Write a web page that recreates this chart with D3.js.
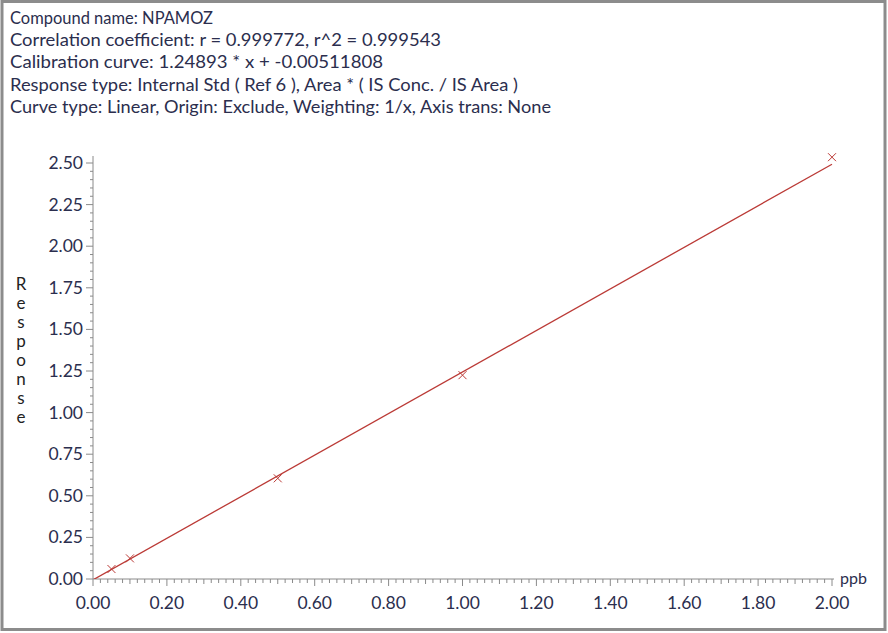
<!DOCTYPE html>
<html>
<head>
<meta charset="utf-8">
<script src="https://cdn.jsdelivr.net/npm/d3@7"></script>
<style>
  body { margin: 0; background: #fff; }
  svg { display: block; }
</style>
</head>
<body>
<script>
const width = 888;
const height = 633;

// header lines
const headerLines = [
  'Compound name: NPAMOZ',
  'Correlation coefficient: r = 0.999772, r^2 = 0.999543',
  'Calibration curve: 1.24893 * x + -0.00511808',
  'Response type: Internal Std ( Ref 6 ), Area * ( IS Conc. / IS Area )',
  'Curve type: Linear, Origin: Exclude, Weighting: 1/x, Axis trans: None'
];

// calibration points
const conc = [0.05, 0.1, 0.5, 1.0, 2.0];
const response = [0.060, 0.124, 0.605, 1.225, 2.535];
const slope = 1.24893;
const intercept = -0.00511808;

const xTicks = [0, 0.2, 0.4, 0.6, 0.8, 1.0, 1.2, 1.4, 1.6, 1.8, 2.0];
const yTicks = [0, 0.25, 0.5, 0.75, 1.0, 1.25, 1.5, 1.75, 2.0, 2.25, 2.5];

const textColor = '#2b2e4e';
const axisColor = '#8a8a8a';
const red = '#bb3a36';
const font = 'Lato, "Noto Sans", sans-serif';

const svg = d3.select('body')
  .append('svg')
  .attr('width', width)
  .attr('height', height);

svg.append('rect')
  .attr('width', width)
  .attr('height', height)
  .attr('fill', 'white');

// frame
svg.append('rect')
  .attr('x', 2)
  .attr('y', 1.5)
  .attr('width', width - 5)
  .attr('height', height - 5)
  .attr('fill', 'none')
  .attr('stroke', '#8c8c8c')
  .attr('stroke-width', 3);

// header text, stretched to the widths of the original wide face
const headerWidths = [203, 431, 373, 508, 541];
svg.selectAll('.hdr')
  .data(headerLines)
  .enter()
  .append('text')
  .attr('class', 'hdr')
  .attr('x', 10)
  .attr('y', (d, i) => 24 + i * 22.2)
  .attr('font-family', font)
  .attr('font-size', 16.5)
  .attr('fill', textColor)
  .attr('textLength', (d, i) => headerWidths[i])
  .attr('lengthAdjust', 'spacingAndGlyphs')
  .text(d => d);

const x = d3.scaleLinear().domain([0, 2]).range([93, 832]);
const y = d3.scaleLinear().domain([0, 2.5]).range([579, 163]);

// minor ticks
const xMinor = d3.range(0, 2.0001, 0.02);
const yMinor = d3.range(0, 2.5001, 0.05);

const axes = svg.append('g');

axes.append('line')
  .attr('x1', x(0)).attr('x2', x(2) + 2)
  .attr('y1', y(0)).attr('y2', y(0))
  .attr('stroke', axisColor);
axes.append('line')
  .attr('x1', x(0)).attr('x2', x(0))
  .attr('y1', y(0)).attr('y2', y(2.5) - 7)
  .attr('stroke', axisColor);

axes.selectAll('.xmin')
  .data(xMinor)
  .enter()
  .append('line')
  .attr('x1', d => x(d)).attr('x2', d => x(d))
  .attr('y1', y(0))
  .attr('y2', (d, i) => y(0) + (i % 10 === 0 ? 7 : (i % 5 === 0 ? 5 : 4)))
  .attr('stroke', axisColor);

axes.selectAll('.ymin')
  .data(yMinor)
  .enter()
  .append('line')
  .attr('y1', d => y(d)).attr('y2', d => y(d))
  .attr('x1', x(0))
  .attr('x2', (d, i) => x(0) - (i % 5 === 0 ? 7 : 3))
  .attr('stroke', axisColor);

// tick labels
svg.selectAll('.xl')
  .data(xTicks)
  .enter()
  .append('text')
  .attr('x', d => x(d))
  .attr('y', 609)
  .attr('text-anchor', 'middle')
  .attr('font-family', font)
  .attr('font-size', 17.5)
  .attr('fill', textColor)
  .text(d => d.toFixed(2));

svg.selectAll('.yl')
  .data(yTicks)
  .enter()
  .append('text')
  .attr('x', 83)
  .attr('y', d => y(d) + 6)
  .attr('text-anchor', 'end')
  .attr('font-family', font)
  .attr('font-size', 17.5)
  .attr('fill', textColor)
  .text(d => d.toFixed(2));

// axis titles
svg.append('text')
  .attr('x', 840)
  .attr('y', 584)
  .attr('font-family', font)
  .attr('font-size', 16)
  .attr('fill', textColor)
  .text('ppb');

svg.selectAll('.ylab')
  .data('Response'.split(''))
  .enter()
  .append('text')
  .attr('x', 21)
  .attr('y', (d, i) => 290 + i * 19)
  .attr('text-anchor', 'middle')
  .attr('font-family', font)
  .attr('font-size', 17)
  .attr('fill', '#222')
  .text(d => d);

// regression line
svg.append('clipPath')
  .attr('id', 'clip')
  .append('rect')
  .attr('x', x(0)).attr('y', y(2.5) - 10)
  .attr('width', x(2) - x(0) + 1)
  .attr('height', y(0) - y(2.5) + 10);

svg.append('line')
  .attr('clip-path', 'url(#clip)')
  .attr('x1', x(0)).attr('y1', y(intercept))
  .attr('x2', x(2)).attr('y2', y(slope * 2 + intercept))
  .attr('stroke', red)
  .attr('stroke-width', 1.3);

// markers
const pts = conc.map((c, i) => [c, response[i]]);
const s = 4;
svg.selectAll('.mk')
  .data(pts)
  .enter()
  .append('path')
  .attr('d', d => {
    const cx = x(d[0]), cy = y(d[1]);
    return `M${cx - s},${cy - s}L${cx + s},${cy + s}M${cx - s},${cy + s}L${cx + s},${cy - s}`;
  })
  .attr('stroke', red)
  .attr('stroke-width', 1)
  .attr('fill', 'none');
</script>
</body>
</html>
